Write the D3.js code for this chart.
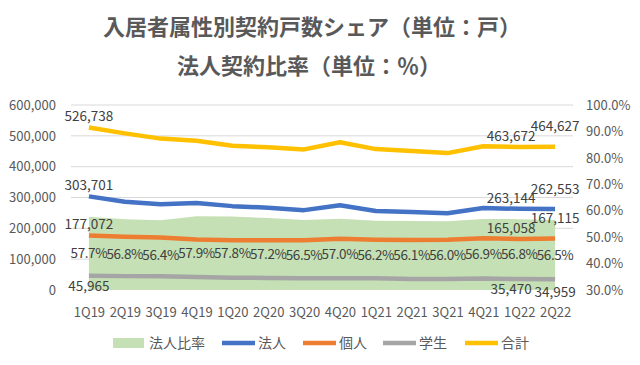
<!DOCTYPE html>
<html>
<head>
<meta charset="utf-8">
<script src="https://cdn.jsdelivr.net/npm/d3@7"></script>
<style>
  body { margin: 0; background: #fff; }
  svg { font-family: "Noto Sans CJK JP", "Noto Sans", sans-serif; }
</style>
</head>
<body>
<svg id="chart" width="640" height="365"></svg>
<script>
// Daten
const quarters = ["1Q19","2Q19","3Q19","4Q19","1Q20","2Q20","3Q20","4Q20","1Q21","2Q21","3Q21","4Q21","1Q22","2Q22"];
const corpRatio = [0.577,0.568,0.564,0.579,0.578,0.572,0.565,0.570,0.562,0.561,0.560,0.569,0.568,0.565];
const corporate = [303701,286000,278000,282000,272000,267000,259000,275000,256000,253000,249000,266000,263144,262553];
const individual = [177072,173000,170000,164000,161000,161000,161000,166000,163000,162000,163000,168000,165058,167115];
const student = [45965,45000,44500,42000,40000,39000,38500,38500,38000,36000,35500,37000,35470,34959];
const total = [526738,508000,491000,484000,468000,463000,456000,479000,457000,451000,444000,466000,463672,464627];
const leftTicks = [0,100000,200000,300000,400000,500000,600000];
const rightTicks = [0.3,0.4,0.5,0.6,0.7,0.8,0.9,1.0];
const labelIdx = [0, 12, 13]; // Punkte mit Datenbeschriftung

const series = [
    { name: "法人", values: corporate, color: "#4472C4", below: false },
    { name: "個人", values: individual, color: "#ED7D31", below: false },
    { name: "学生", values: student, color: "#A5A5A5", below: true },
    { name: "合計", values: total, color: "#FFC000", below: false }
];

const svg = d3.select("#chart");
const textColor = "#595959";

const x = d3.scalePoint().domain(quarters).range([71, 573]).padding(0.5);
const yL = d3.scaleLinear().domain([0, 600000]).range([290, 105]);
const yR = d3.scaleLinear().domain([0.3, 1.0]).range([290, 105]);

// Titel
const title = svg.append("g").attr("font-weight", "bold").attr("fill", textColor)
    .attr("font-size", 22).attr("text-anchor", "middle");
title.append("text").attr("x", 312).attr("y", 35).text("入居者属性別契約戸数シェア（単位：戸）");
title.append("text").attr("x", 309).attr("y", 74).text("法人契約比率（単位：％）");

// Gitterlinien
svg.append("g").selectAll("line")
    .data(leftTicks.slice(1))
    .enter().append("line")
    .attr("x1", 71).attr("x2", 573)
    .attr("y1", d => yL(d)).attr("y2", d => yL(d))
    .attr("stroke", "#D9D9D9").attr("stroke-width", 1);

// Linke Achse
const axisL = svg.append("g").attr("transform", "translate(56,0)")
    .call(d3.axisLeft(yL).tickValues(leftTicks).tickFormat(d3.format(",")).tickSize(0).tickPadding(0));
axisL.select(".domain").remove();
axisL.selectAll("text").attr("font-size", 13).attr("fill", textColor)
    .attr("font-family", "\"Noto Sans CJK JP\", sans-serif");

// Rechte Achse
const axisR = svg.append("g").attr("transform", "translate(586,0)")
    .call(d3.axisRight(yR).tickValues(rightTicks).tickFormat(d3.format(".1%")).tickSize(0).tickPadding(0));
axisR.select(".domain").remove();
axisR.selectAll("text").attr("font-size", 13).attr("fill", textColor)
    .attr("font-family", "\"Noto Sans CJK JP\", sans-serif");

// Fläche für Firmenquote
const area = d3.area()
    .x((d, i) => x(quarters[i]))
    .y0(yR(0.3))
    .y1(d => yR(d));
svg.append("path").datum(corpRatio)
    .attr("d", area)
    .attr("fill", "#C5E0B4");

// Linien
const line = d3.line()
    .x((d, i) => x(quarters[i]))
    .y(d => yL(d));
series.forEach(s => {
    svg.append("path").datum(s.values)
        .attr("d", line)
        .attr("fill", "none")
        .attr("stroke", s.color)
        .attr("stroke-width", 4.5)
        .attr("stroke-linejoin", "round");
});

// X-Achse Beschriftung
const axisX = svg.append("g").attr("transform", "translate(0,312)")
    .call(d3.axisBottom(x).tickSize(0).tickPadding(0));
axisX.select(".domain").remove();
axisX.selectAll("text").attr("font-size", 13).attr("fill", textColor)
    .attr("dy", "0.35em")
    .attr("font-family", "\"Noto Sans CJK JP\", sans-serif");

// Prozent-Beschriftungen in der Fläche
svg.append("g").selectAll("text")
    .data(corpRatio)
    .enter().append("text")
    .attr("x", (d, i) => x(quarters[i]))
    .attr("y", d => (yR(d) + yR(0.3)) / 2)
    .attr("dy", "0.35em")
    .attr("text-anchor", "middle")
    .attr("font-size", 13.5)
    .attr("letter-spacing", -0.4)
    .attr("fill", "#404040")
    .text(d => d3.format(".1%")(d));

// Wertbeschriftungen
series.forEach(s => {
    svg.append("g").selectAll("text")
        .data(labelIdx)
        .enter().append("text")
        .attr("x", i => x(quarters[i]) + (i === 12 ? -8 : 0))
        .attr("y", i => {
            const off = s.below ? (i === 13 ? 13 : 10) : (i === 13 ? 20 : 11);
            return yL(s.values[i]) + (s.below ? off : -off);
        })
        .attr("dy", "0.35em")
        .attr("text-anchor", "middle")
        .attr("font-size", 13.5)
        .attr("fill", "#404040")
        .text(i => d3.format(",")(s.values[i]));
});

// Legende
const legendItems = [
    { name: "法人比率", color: "#C5E0B4", type: "rect", x: 113 },
    { name: "法人", color: "#4472C4", type: "line", x: 222 },
    { name: "個人", color: "#ED7D31", type: "line", x: 303 },
    { name: "学生", color: "#A5A5A5", type: "line", x: 383 },
    { name: "合計", color: "#FFC000", type: "line", x: 465 }
];
const legend = svg.append("g").attr("transform", "translate(0,343)");
legendItems.forEach(item => {
    if (item.type === "rect") {
        legend.append("rect").attr("x", item.x).attr("y", -5).attr("width", 31).attr("height", 10)
            .attr("fill", item.color);
    } else {
        legend.append("line").attr("x1", item.x).attr("x2", item.x + 33)
            .attr("y1", 0).attr("y2", 0)
            .attr("stroke", item.color).attr("stroke-width", 4.5);
    }
    legend.append("text").attr("x", item.x + 36).attr("y", 0).attr("dy", "0.35em")
        .attr("font-size", 14).attr("fill", textColor).text(item.name);
});
</script>
</body>
</html>
